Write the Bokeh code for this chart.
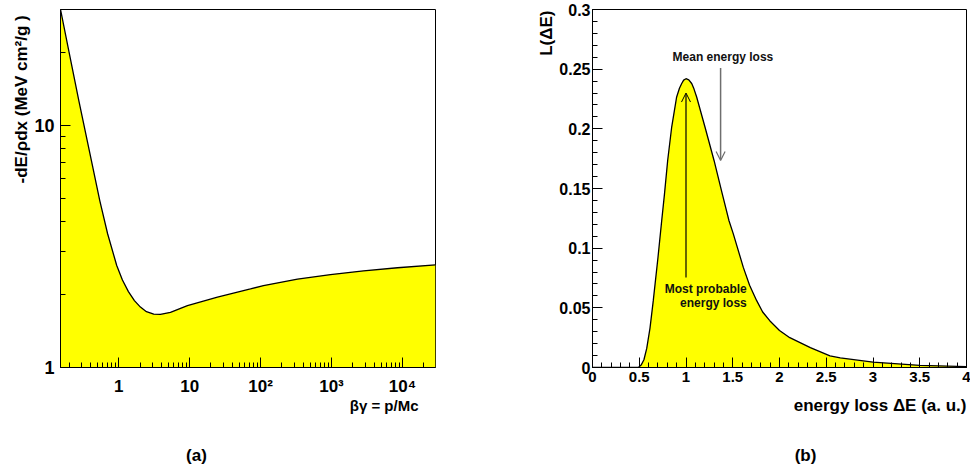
import numpy as np
from bokeh.plotting import figure
from bokeh.models import Range1d, FixedTicker, Label, Arrow, OpenHead, CustomJSTickFormatter, Title
from bokeh.layouts import row, column
from bokeh.embed import file_html
from bokeh.resources import INLINE

# ---------------- Panel (a): Bethe-Bloch ----------------
beta_gamma = [0.151, 0.20, 0.2728, 0.4298, 0.5395, 0.6973, 0.9371, 1.128, 1.370, 1.665,
              2.023, 2.459, 3.117, 3.873, 5.36, 9.31, 24.66, 72.0, 109.9, 331.6, 968.0,
              2830.0, 8540.0, 29300.0]
dedx = [30.0, 19.9, 12.69, 6.72, 4.894, 3.564, 2.635, 2.296, 2.057, 1.888,
        1.775, 1.700, 1.660, 1.655, 1.689, 1.800, 1.951, 2.110, 2.178, 2.317, 2.418,
        2.505, 2.580, 2.652]
bg_major_ticks = [1, 10, 100, 1000, 10000]
bg_tick_labels = ["1", "10", "10\u00b2", "10\u00b3", "10\u2074"]
dedx_major_ticks = [1, 10]
dedx_tick_labels = ["1", "10"]

# ---------------- Panel (b): Landau ----------------
eloss = [0.0, 0.45, 0.49, 0.52, 0.55, 0.58, 0.615, 0.65, 0.70, 0.74, 0.77, 0.804, 0.847,
         0.90, 0.93, 0.954, 0.975, 1.0, 1.03, 1.061, 1.085, 1.114, 1.203, 1.30, 1.388,
         1.46, 1.506, 1.613, 1.68, 1.756, 1.82, 1.898, 2.0, 2.11, 2.33, 2.54, 2.65,
         3.0, 3.5, 4.0]
landau = [0.0, 0.0, 0.0, 0.002, 0.0065, 0.016, 0.033, 0.056, 0.092, 0.123, 0.1455, 0.1735,
          0.2015, 0.2267, 0.2340, 0.238, 0.2408, 0.242, 0.2410, 0.238, 0.2335, 0.2267,
          0.2015, 0.1735, 0.1455, 0.123, 0.112, 0.0839, 0.069, 0.056, 0.0465, 0.039,
          0.031, 0.025, 0.0166, 0.0097, 0.0080, 0.0045, 0.0018, 0.0008]
landau_x_ticks = [0, 0.5, 1, 1.5, 2, 2.5, 3, 3.5, 4]
landau_y_ticks = [0, 0.05, 0.1, 0.15, 0.2, 0.25, 0.3]
most_probable = 1.0
mp_arrow_y = (0.0755, 0.23)
mean_loss = 1.37
mean_arrow_y = (0.251, 0.1735)

FONT = "Liberation Sans"
YELLOW = "#ffff00"


def style_axis(ax, size, standoff):
    ax.axis_line_color = "black"
    ax.major_tick_line_color = "black"
    ax.minor_tick_line_color = "black"
    ax.major_tick_in = 10
    ax.major_tick_out = 0
    ax.minor_tick_in = 5
    ax.minor_tick_out = 0
    ax.major_label_text_font = FONT
    ax.major_label_text_font_style = "bold"
    ax.major_label_text_font_size = size
    ax.major_label_text_color = "black"
    ax.major_label_standoff = standoff


def style_fig(p):
    p.xgrid.visible = False
    p.ygrid.visible = False
    p.outline_line_color = "black"
    p.outline_line_alpha = 1.0
    p.outline_line_width = 1
    p.background_fill_color = "white"
    p.border_fill_color = "white"


def title(txt, size, align, offset, standoff):
    t = Title(text=txt, align=align, offset=offset, standoff=0,
              text_font=FONT, text_font_style="bold", text_font_size=size,
              text_color="black")
    try:
        t.standoff = standoff
    except Exception:
        t.standoff = max(standoff, 0)
    return t


def text_label(x, y, txt, size="12px", align="center", color="#111111"):
    return Label(x=x, y=y, text=txt, text_align=align, text_baseline="middle",
                 text_font=FONT, text_font_style="bold", text_font_size=size,
                 text_color=color)


FIG_H = 441

# ---- left figure ----
p1 = figure(width=488, height=FIG_H, x_axis_type="log", y_axis_type="log",
            x_range=Range1d(0.151, 29300), y_range=Range1d(1, 30),
            output_backend="svg", toolbar_location=None,
            min_border_left=60, min_border_right=53, min_border_top=9,
            min_border_bottom=FIG_H - 9 - 358)
style_fig(p1)
p1.varea(x=beta_gamma, y1=1, y2=dedx, fill_color=YELLOW)
p1.line(beta_gamma, dedx, line_color="black", line_width=1.3)

bg_minor = []
for dec in [0.1, 1, 10, 100, 1000, 10000]:
    for m in range(2, 10):
        v = round(m * dec, 6)
        if 0.151 <= v <= 29300:
            bg_minor.append(v)
p1.xaxis.ticker = FixedTicker(ticks=bg_major_ticks, minor_ticks=bg_minor)
p1.xaxis.major_label_overrides = dict(zip(bg_major_ticks, bg_tick_labels))
style_axis(p1.xaxis[0], "17px", 9)

dedx_minor = [2, 3, 4, 5, 6, 7, 8, 9, 20, 30]
p1.yaxis.ticker = FixedTicker(ticks=dedx_major_ticks, minor_ticks=dedx_minor)
p1.yaxis.major_label_overrides = dict(zip(dedx_major_ticks, dedx_tick_labels))
style_axis(p1.yaxis[0], "18px", 6)

p1.add_layout(title("-dE/\u03c1dx  (MeV cm\u00b2/g )", "17px", "right", 1, 2), "left")
p1.add_layout(title("\u03b2\u03b3 = p/Mc", "15px", "right", 17, -8), "below")

# ---- right figure ----
p2 = figure(width=482, height=FIG_H, x_range=Range1d(0, 4), y_range=Range1d(0, 0.3),
            output_backend="svg", toolbar_location=None,
            min_border_left=104, min_border_right=4, min_border_top=9,
            min_border_bottom=FIG_H - 9 - 358)
style_fig(p2)
p2.varea(x=eloss, y1=0, y2=landau, fill_color=YELLOW)
p2.line(eloss, landau, line_color="black", line_width=1.3)

fmt = CustomJSTickFormatter(code="return String(tick)")
x_minor = [round(0.1 * i, 2) for i in range(41)]
y_minor = [round(0.01 * i, 3) for i in range(31)]
p2.xaxis.ticker = FixedTicker(ticks=landau_x_ticks, minor_ticks=x_minor)
p2.xaxis.formatter = fmt
style_axis(p2.xaxis[0], "15px", 4)
p2.yaxis.ticker = FixedTicker(ticks=landau_y_ticks, minor_ticks=y_minor)
p2.yaxis.formatter = fmt
style_axis(p2.yaxis[0], "16px", 2)

p2.add_layout(Arrow(end=OpenHead(size=9, line_color="black", line_width=1),
                    x_start=most_probable, y_start=mp_arrow_y[0],
                    x_end=most_probable, y_end=mp_arrow_y[1],
                    line_color="black", line_width=1.2))
p2.add_layout(Arrow(end=OpenHead(size=9, line_color="#6e6e6e", line_width=1.2),
                    x_start=mean_loss, y_start=mean_arrow_y[0],
                    x_end=mean_loss, y_end=mean_arrow_y[1],
                    line_color="#6e6e6e", line_width=1.5))
p2.add_layout(text_label(1.395, 0.26, "Mean energy loss"))
p2.add_layout(text_label(1.65, 0.066, "Most probable", align="right"))
p2.add_layout(text_label(1.65, 0.054, "energy loss", align="right"))

p2.add_layout(title("L(\u0394E)", "17px", "right", 1, 2), "left")
p2.add_layout(title("energy loss \u0394E (a. u.)", "17px", "right", 0, 18), "below")

# ---- panel captions strip ----
CAP_H = 471 - FIG_H
p3 = figure(width=970, height=CAP_H, x_range=Range1d(0, 970), y_range=Range1d(0, CAP_H),
            output_backend="svg", toolbar_location=None,
            x_axis_location=None, y_axis_location=None,
            min_border_left=0, min_border_right=0, min_border_top=0, min_border_bottom=0)
p3.xgrid.visible = False
p3.ygrid.visible = False
p3.outline_line_color = None
p3.background_fill_color = "white"
p3.border_fill_color = "white"
p3.add_layout(text_label(196, 16, "(a)", size="17px", color="black"))
p3.add_layout(text_label(805, 16, "(b)", size="17px", color="black"))

layout = column(row(p1, p2), p3)
open("out.html", "w").write(file_html(layout, INLINE))
